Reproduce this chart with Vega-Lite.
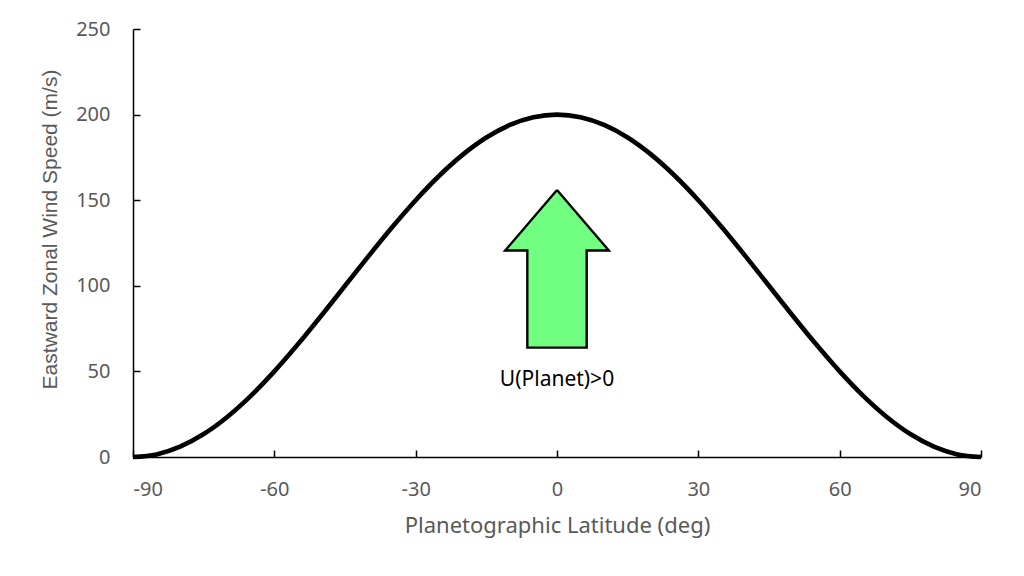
{
  "$schema": "https://vega.github.io/schema/vega-lite/v6.json",
  "width": 848,
  "height": 428,
  "autosize": {"type": "none"},
  "padding": {"left": 133, "top": 29, "right": 43, "bottom": 119},
  "background": "white",
  "config": {
    "view": {"stroke": null},
    "font": "Noto Sans",
    "axis": {
      "grid": false,
      "domainColor": "#000000",
      "domainWidth": 1.5,
      "tickColor": "#000000",
      "tickWidth": 1.5,
      "tickSize": -7,
      "labelColor": "#595959",
      "labelFontSize": 20,
      "labelFont": "Noto Sans",
      "labelExpr": "'' + datum.value",
      "titleColor": "#595959",
      "titleFontSize": 22,
      "titleFont": "Noto Sans",
      "titleFontWeight": "normal"
    }
  },
  "datasets": {
    "curve": [
      {"lat": -90, "u": 0},
      {"lat": -85, "u": 1.52},
      {"lat": -80, "u": 6.03},
      {"lat": -75, "u": 13.4},
      {"lat": -70, "u": 23.4},
      {"lat": -65, "u": 35.72},
      {"lat": -60, "u": 50},
      {"lat": -55, "u": 65.8},
      {"lat": -50, "u": 82.64},
      {"lat": -45, "u": 100},
      {"lat": -40, "u": 117.36},
      {"lat": -35, "u": 134.2},
      {"lat": -30, "u": 150},
      {"lat": -25, "u": 164.28},
      {"lat": -20, "u": 176.6},
      {"lat": -15, "u": 186.6},
      {"lat": -10, "u": 193.97},
      {"lat": -5, "u": 198.48},
      {"lat": 0, "u": 200},
      {"lat": 5, "u": 198.48},
      {"lat": 10, "u": 193.97},
      {"lat": 15, "u": 186.6},
      {"lat": 20, "u": 176.6},
      {"lat": 25, "u": 164.28},
      {"lat": 30, "u": 150},
      {"lat": 35, "u": 134.2},
      {"lat": 40, "u": 117.36},
      {"lat": 45, "u": 100},
      {"lat": 50, "u": 82.64},
      {"lat": 55, "u": 65.8},
      {"lat": 60, "u": 50},
      {"lat": 65, "u": 35.72},
      {"lat": 70, "u": 23.4},
      {"lat": 75, "u": 13.4},
      {"lat": 80, "u": 6.03},
      {"lat": 85, "u": 1.52},
      {"lat": 90, "u": 0}
    ],
    "arrow": [
      {"i": 0, "lat": 0, "u": 156},
      {"i": 1, "lat": 11, "u": 120.6},
      {"i": 2, "lat": 6.3, "u": 120.6},
      {"i": 3, "lat": 6.3, "u": 63.9},
      {"i": 4, "lat": -6.3, "u": 63.9},
      {"i": 5, "lat": -6.3, "u": 120.6},
      {"i": 6, "lat": -11, "u": 120.6},
      {"i": 7, "lat": 0, "u": 156}
    ],
    "note": [
      {"lat": 0, "u": 45, "label": "U(Planet)>0"}
    ]
  },
  "layer": [
    {
      "data": {"name": "curve"},
      "mark": {"type": "line", "color": "#000000", "strokeWidth": 4.6, "interpolate": "monotone"},
      "encoding": {
        "x": {
          "field": "lat", "type": "quantitative",
          "scale": {"domain": [-90, 90], "nice": false, "zero": false},
          "axis": {"values": [-90, -60, -30, 0, 30, 60, 90], "title": "Planetographic Latitude (deg)", "labelPadding": 29, "titleY": 68, "titleBaseline": "middle"}
        },
        "y": {
          "field": "u", "type": "quantitative",
          "scale": {"domain": [0, 250], "nice": false},
          "axis": {"values": [0, 50, 100, 150, 200, 250], "title": "Eastward Zonal Wind Speed (m/s)", "labelPadding": 30, "titleFont": "Liberation Sans", "titleFontSize": 21, "titleX": -83, "titleY": 200, "titleBaseline": "middle"}
        }
      }
    },
    {
      "data": {"name": "arrow"},
      "mark": {"type": "line", "fill": "#70FF80", "stroke": "#000000", "strokeWidth": 2.4, "strokeJoin": "miter", "interpolate": "linear"},
      "encoding": {
        "x": {"field": "lat", "type": "quantitative"},
        "y": {"field": "u", "type": "quantitative"},
        "order": {"field": "i", "type": "quantitative"}
      }
    },
    {
      "data": {"name": "note"},
      "mark": {"type": "text", "fontSize": 21, "color": "#000000", "font": "Noto Sans", "align": "center", "baseline": "middle"},
      "encoding": {
        "x": {"field": "lat", "type": "quantitative"},
        "y": {"field": "u", "type": "quantitative"},
        "text": {"field": "label"}
      }
    }
  ]
}
